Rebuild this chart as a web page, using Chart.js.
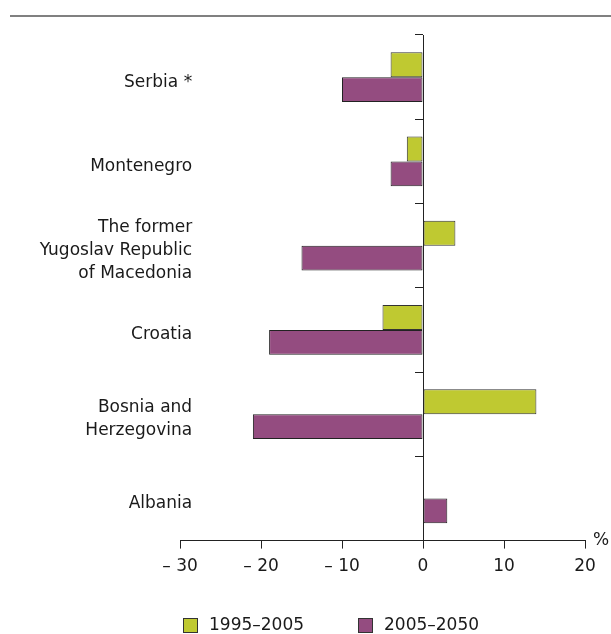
<!DOCTYPE html>
<html>
<head>
<meta charset="utf-8">
<script src="https://cdn.jsdelivr.net/npm/chart.js@4/dist/chart.umd.min.js"></script>
<style>
  html, body { margin: 0; padding: 0; background: #fff; }
  #wrap { position: relative; width: 611px; height: 634px; }
  #rule { position: absolute; left: 10px; right: 0; top: 15px; height: 2px; background: #808080; }
  canvas { position: absolute; left: 0; top: 0; }
</style>
</head>
<body>
<div id="wrap">
  <div id="rule"></div>
  <canvas id="chart" width="611" height="634"></canvas>
</div>
<script>
// population change, %
const categories = ['Serbia *', 'Montenegro', ['The former', 'Yugoslav Republic', 'of Macedonia'], 'Croatia', ['Bosnia and', 'Herzegovina'], 'Albania'];
const change1995to2005 = [-4, -2, 4, -5, 14, null];
const change2005to2050 = [-10, -4, -15, -19, -21, 3];
const xTicks = [-30, -20, -10, 0, 10, 20];
const seriesNames = ['1995–2005', '2005–2050'];

const green = '#bfc931';
const purple = '#944c80';
const ink = '#1a1a1a';
const fontFamily = '"DejaVu Sans", Verdana, sans-serif';

Chart.defaults.font.family = fontFamily;
Chart.defaults.font.size = 17;
Chart.defaults.color = ink;

// legend below the axis, boxes + names
const bottomLegend = {
  id: 'bottomLegend',
  afterDraw(chart) {
    const ctx = chart.ctx;
    const xs = [183, 358];
    const y = 618;
    ctx.save();
    ctx.font = '17px ' + fontFamily;
    ctx.textBaseline = 'middle';
    chart.data.datasets.forEach((ds, i) => {
      ctx.fillStyle = ds.backgroundColor;
      ctx.fillRect(xs[i], y, 15, 15);
      ctx.strokeStyle = '#333';
      ctx.lineWidth = 1;
      ctx.strokeRect(xs[i] + 0.5, y + 0.5, 14, 14);
      ctx.fillStyle = ink;
      ctx.fillText(ds.label, xs[i] + 26, y + 8);
    });
    ctx.restore();
  }
};

// unit at the end of the x axis
const unitLabel = {
  id: 'unitLabel',
  afterDraw(chart) {
    const ctx = chart.ctx;
    const area = chart.chartArea;
    ctx.save();
    ctx.font = '17px ' + fontFamily;
    ctx.fillStyle = ink;
    ctx.textBaseline = 'middle';
    ctx.fillText('%', area.right + 8, area.bottom);
    ctx.restore();
  }
};

const ctx = document.getElementById('chart');
new Chart(ctx, {
  type: 'bar',
  data: {
    labels: categories,
    datasets: [
      { label: seriesNames[0], data: change1995to2005, backgroundColor: green, borderColor: '#333', borderWidth: 1, borderSkipped: false },
      { label: seriesNames[1], data: change2005to2050, backgroundColor: purple, borderColor: '#222', borderWidth: 1, borderSkipped: false }
    ]
  },
  options: {
    indexAxis: 'y',
    responsive: false,
    animation: false,
    categoryPercentage: 0.59,
    barPercentage: 1.0,
    layout: { padding: { left: 180, right: 26, top: 35, bottom: 49 } },
    plugins: { legend: { display: false }, tooltip: { enabled: false } },
    scales: {
      x: {
        type: 'linear',
        position: 'bottom',
        min: xTicks[0],
        max: xTicks[xTicks.length - 1],
        afterBuildTicks: s => { s.ticks = xTicks.map(v => ({ value: v })); },
        ticks: {
          padding: 8,
          callback: v => v < 0 ? '– ' + (-v) : String(v)
        },
        grid: { drawOnChartArea: false, tickLength: 8, color: '#222' },
        border: { color: '#222', width: 1 }
      },
      y: {
        type: 'category',
        position: { x: 0 },
        ticks: { display: false },
        grid: { drawOnChartArea: false, tickLength: 8, color: '#222', offset: true },
        border: { color: '#222', width: 1 }
      },
      names: {
        type: 'category',
        axis: 'y',
        position: { x: -28.5 },
        grid: { display: false, drawTicks: false },
        border: { display: false },
        ticks: { padding: 0, labelOffset: 5, font: { lineHeight: 1.35 } }
      }
    }
  },
  plugins: [bottomLegend, unitLabel]
});
</script>
</body>
</html>
